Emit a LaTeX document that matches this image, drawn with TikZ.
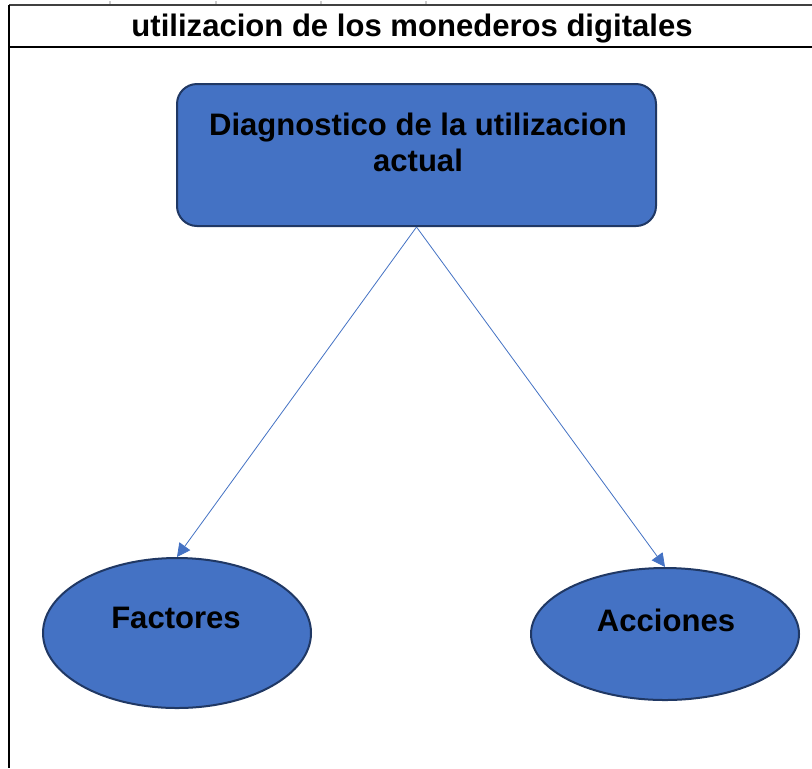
\documentclass[tikz,border=0pt]{standalone}
\usepackage{fontspec}
\setmainfont{Liberation Sans}
\usetikzlibrary{shapes.geometric,arrows.meta}
\definecolor{fillblue}{HTML}{4472C4}
\definecolor{edgeblue}{HTML}{203864}
\begin{document}
\begin{tikzpicture}[x=0.75pt,y=-0.75pt,
  shapefill/.style={fill=fillblue,draw=edgeblue,line width=1.5pt},
  lbl/.style={font=\bfseries\fontsize{23.3}{27}\selectfont,text=black,align=center,inner sep=0pt},
  conn/.style={draw=fillblue,line width=0.6pt,-{Triangle[length=10pt,width=10pt]}}]
\useasboundingbox (0,0) rectangle (812,768);
\fill[white] (0,0) rectangle (812,768);
% frame lines
\draw[black!75,line width=1pt] (9,5) -- (812,5);
\foreach \xx in {110,216,321,426}{\draw[black!20,line width=0.8pt] (\xx,1) -- (\xx,4);}
\draw[black,line width=1.6pt] (9,4.5) -- (9,768);
\draw[black,line width=1.6pt] (9,47) -- (812,47);
\node[lbl] (title) at (412,29) {utilizacion de los monederos digitales};
% box
\node[shapefill,rectangle,rounded corners=15pt,minimum width=479*0.75pt,minimum height=142*0.75pt,inner sep=0pt] (box) at (416.5,155) {};
\node[lbl] (boxtxt) at (418,142) {Diagnostico de la utilizacion\\actual};
% ellipses
\node[shapefill,ellipse,minimum width=268*0.75pt,minimum height=150*0.75pt,inner sep=0pt] (fac) at (177,633) {};
\node[lbl] (factxt) at (176,618) {Factores};
\node[shapefill,ellipse,minimum width=268*0.75pt,minimum height=132*0.75pt,inner sep=0pt] (acc) at (665,634) {};
\node[lbl] (acctxt) at (666,620) {Acciones};
% connectors
\draw[conn] (box.south) -- (fac.north);
\draw[conn] (box.south) -- (acc.north);
\end{tikzpicture}
\end{document}
